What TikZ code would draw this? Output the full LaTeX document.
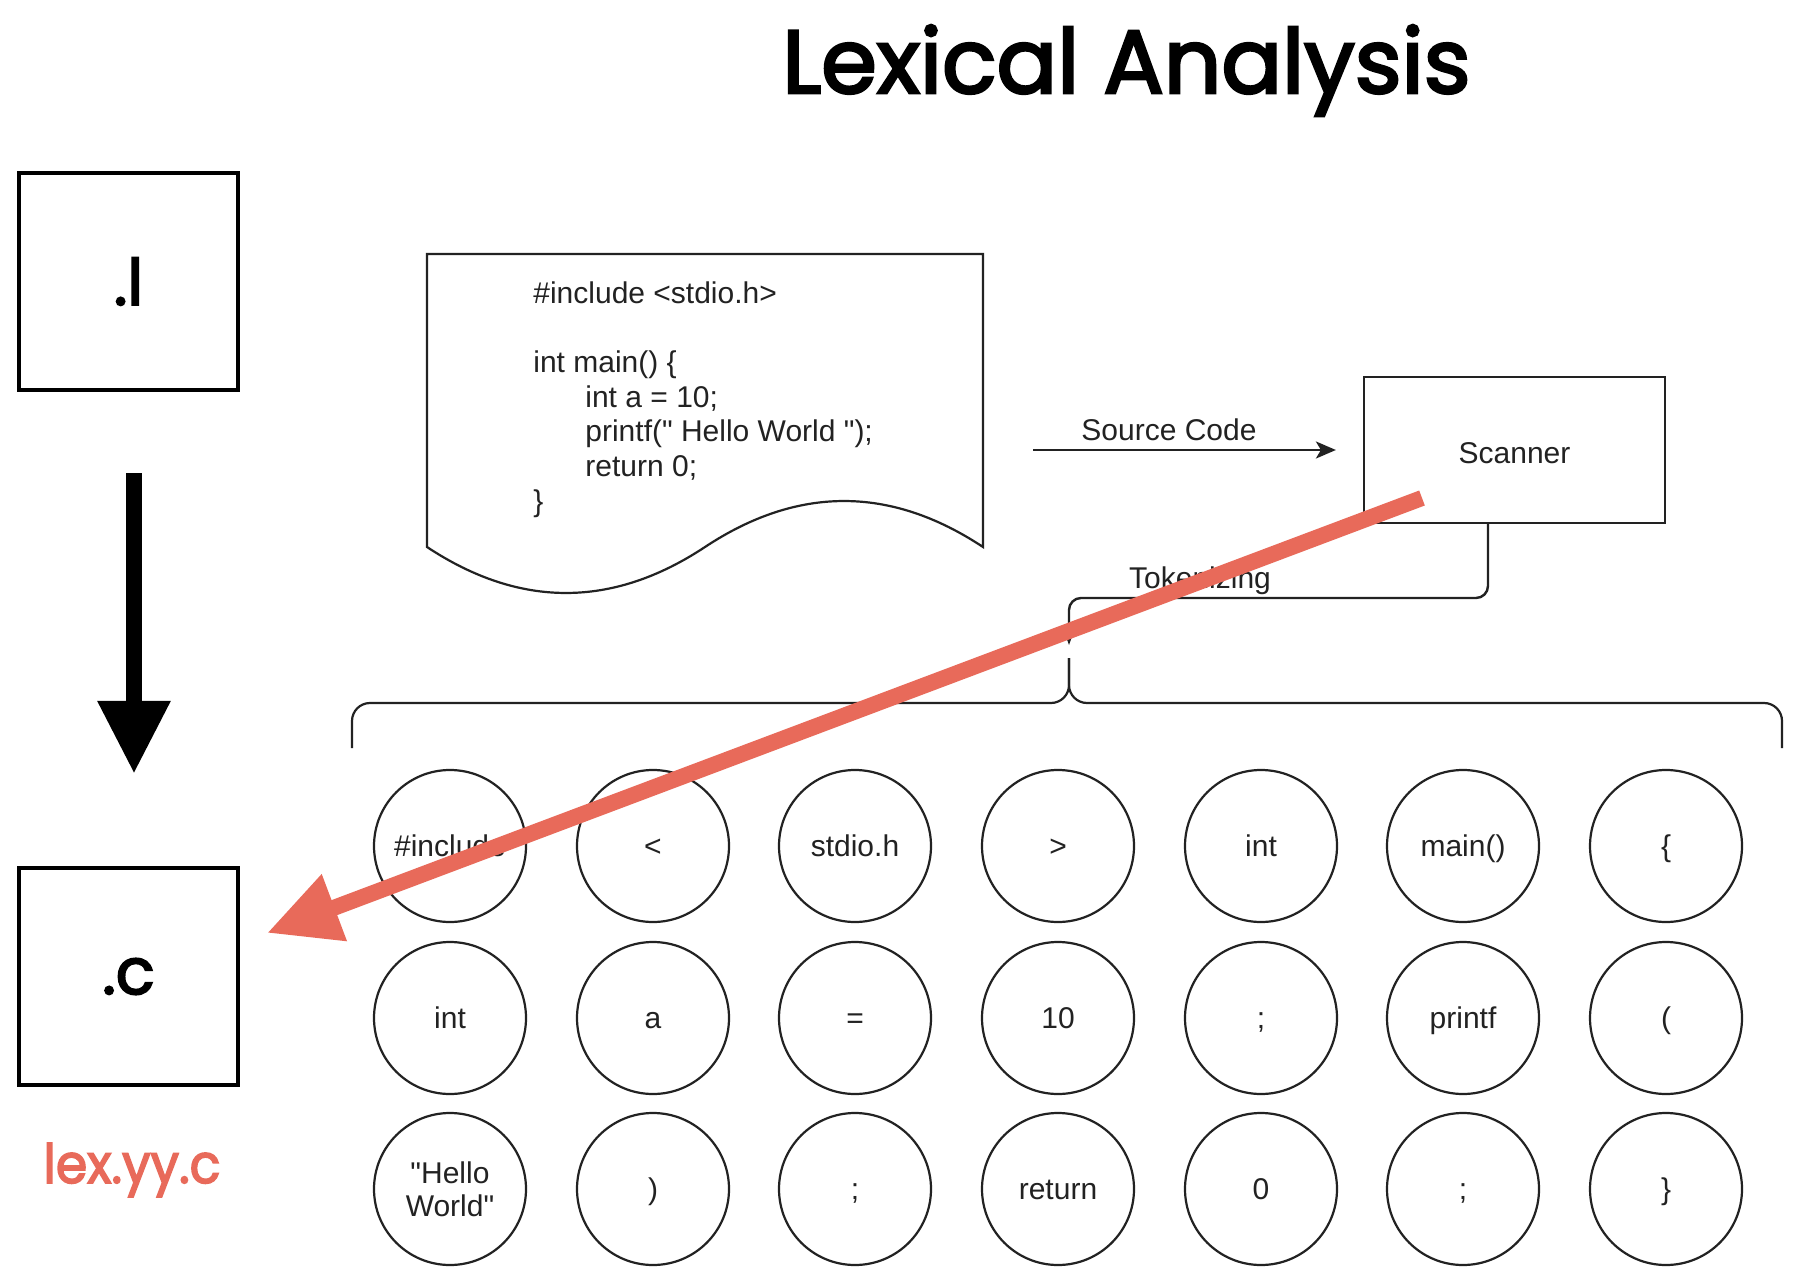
\documentclass[tikz,border=0pt]{standalone}
\usepackage{fontspec}
\setmainfont{Liberation Sans}
\newfontfamily\comic[FakeBold=3]{Poppins}
\usetikzlibrary{arrows.meta}
\definecolor{salmon}{RGB}{232,106,90}
\definecolor{ink}{RGB}{34,34,34}
\tikzset{
  filebox/.style={draw=black, line width=2.25pt, minimum width=109.5pt, minimum height=108.5pt, inner sep=0pt, font=\comic\fontsize{32}{36}\selectfont},
  token/.style={circle, draw=ink, line width=1.1pt, minimum size=76pt, inner sep=0pt, font=\fontsize{15}{16.5}\selectfont, text=ink, align=center},
  tokfix/.style={token, text height=11pt, text depth=0.2pt},
  lbl/.style={font=\fontsize{15}{17}\selectfont, text=ink, inner sep=0pt},
  conn/.style={draw=ink, line width=1.2pt},
  shapeline/.style={draw=ink, line width=1.1pt},
}
\begin{document}
\begin{tikzpicture}[x=0.5pt,y=-0.5pt]
\useasboundingbox[fill=white] (0,0) rectangle (1809,1278);

% title
\node[anchor=base west, inner sep=0pt] (title) at (782,93) {\resizebox{344pt}{34pt}{\comic Lexical Analysis}};

% left files
\node[filebox] (lfile) at (128.5,281.5) {.l};
\node[filebox] (cfile) at (128.5,976.5) {.c};
\node[anchor=base west, inner sep=0pt, text=salmon] (lexyy) at (43,1183) {\resizebox{88.5pt}{20pt}{\comic lex.yy.c}};
\draw[line width=8pt, -{Triangle[length=36.5pt,width=34.5pt]}, shorten <=40.5pt, shorten >=46pt] ([xshift=2.75pt]lfile.south) -- ([xshift=2.75pt]cfile.north);

% document shape
\draw[shapeline] (427,254) -- (983,254) -- (983,547)
  .. controls (890.3,485.7) and (797.7,485.7) .. (705,547)
  .. controls (612.3,608.3) and (519.7,608.3) .. (427,547) -- cycle;
\coordinate (docE) at (983,450);
\node[lbl, anchor=base west] (code1) at (533,304) {\#include <stdio.h>};
\node[lbl, anchor=base west] (code2) at (533,373) {int main() \{};
\node[lbl, anchor=base west] (code3) at (585,407.5) {int a = 10;};
\node[lbl, anchor=base west] (code4) at (585,442) {printf(\textquotedbl{} Hello World \textquotedbl);};
\node[lbl, anchor=base west] (code5) at (585,476.5) {return 0;};
\node[lbl, anchor=base west] (code6) at (533,511) {\}};

% scanner
\node[draw=ink, line width=1.1pt, minimum width=150.5pt, minimum height=73pt, inner sep=0pt, font=\fontsize{15}{17}\selectfont, text=ink, text height=14pt, text depth=0pt] (scanner) at (1514.5,450) {Scanner};
\draw[conn, -{Stealth[length=10pt,width=8.5pt,inset=2.5pt]}, shorten <=25pt, shorten >=13.5pt] (docE) -- (scanner);
\node[lbl, anchor=base] (srclbl) at (1169,440) {Source Code};

% brace
\coordinate (bt) at (1069,658);
\draw[shapeline, rounded corners=9pt] (352,748) -- (352,703) -- (1069,703) -- (bt);
\draw[shapeline, rounded corners=9pt] (bt) -- (1069,703) -- (1782,703) -- (1782,748);

% tokenizing
\draw[conn, rounded corners=6pt, -{Stealth[length=7pt,width=5pt]}, shorten >=6.5pt] ([xshift=-13.25pt]scanner.south) -- (1488,598) -- (1069,598) -- (bt);
\node[lbl, anchor=base] (toklbl) at (1200,588) {Tokenizing};

% tokens
\node[tokfix] (t11) at (450,846) {\#include};
\node[tokfix] (t12) at (653,846) {<};
\node[tokfix] (t13) at (855,846) {stdio.h};
\node[tokfix] (t14) at (1058,846) {>};
\node[tokfix] (t15) at (1261,846) {int};
\node[tokfix] (t16) at (1463,846) {main()};
\node[tokfix] (t17) at (1666,846) {\{};

\node[tokfix] (t21) at (450,1018) {int};
\node[tokfix] (t22) at (653,1018) {a};
\node[tokfix] (t23) at (855,1018) {=};
\node[tokfix] (t24) at (1058,1018) {10};
\node[tokfix] (t25) at (1261,1018) {;};
\node[tokfix] (t26) at (1463,1018) {printf};
\node[tokfix] (t27) at (1666,1018) {(};

\node[token] (t31) at (450,1189) {\textquotedbl Hello\\World\textquotedbl};
\node[tokfix] (t32) at (653,1189) {)};
\node[tokfix] (t33) at (855,1189) {;};
\node[tokfix] (t34) at (1058,1189) {return};
\node[tokfix] (t35) at (1261,1189) {0};
\node[tokfix] (t36) at (1463,1189) {;};
\node[tokfix] (t37) at (1666,1189) {\}};

% red overlay arrow
\coordinate (rs) at (1422,498);
\coordinate (rt) at (267,933);
\draw[salmon, line width=8pt, -{Triangle[length=36pt,width=33.5pt]}] (rs) -- (rt);
\end{tikzpicture}
\end{document}
